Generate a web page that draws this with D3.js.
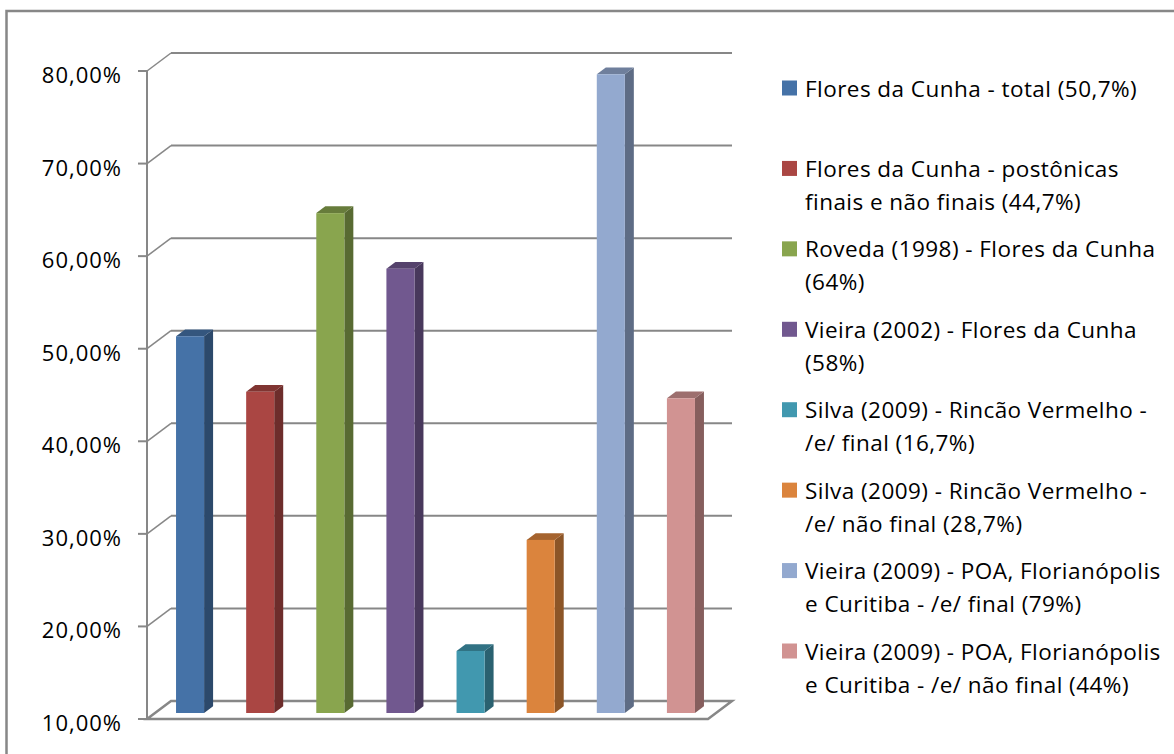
<!DOCTYPE html>
<html>
<head>
<meta charset="utf-8">
<script src="https://cdn.jsdelivr.net/npm/d3@7"></script>
<style>
  html, body { margin: 0; padding: 0; background: #ffffff; }
  svg { display: block; }
  text { font-family: "Open Sans", Lato, "Liberation Sans", sans-serif; fill: #000; }
</style>
</head>
<body>
<svg id="chart" width="1174" height="754"></svg>
<script>
// ---- data ----
const categories = ["c1","c2","c3","c4","c5","c6","c7","c8"];
const values = [50.7, 44.7, 64, 58, 16.7, 28.7, 79, 44];
const colors = ["#4572A7","#AA4643","#89A54E","#71588F","#4198AF","#DB843D","#93A9CF","#D19392"];
const legendLabels = [
  ["Flores da Cunha - total (50,7%)"],
  ["Flores da Cunha - postônicas", "finais e não finais (44,7%)"],
  ["Roveda (1998) - Flores da Cunha", "(64%)"],
  ["Vieira (2002) - Flores da Cunha", "(58%)"],
  ["Silva (2009) - Rincão Vermelho -", "/e/ final (16,7%)"],
  ["Silva (2009) - Rincão Vermelho -", "/e/ não final (28,7%)"],
  ["Vieira (2009) - POA, Florianópolis", "e Curitiba - /e/ final (79%)"],
  ["Vieira (2009) - POA, Florianópolis", "e Curitiba - /e/ não final (44%)"]
];
const tickValues = [10, 20, 30, 40, 50, 60, 70, 80];
const tickLabels = ["10,00%","20,00%","30,00%","40,00%","50,00%","60,00%","70,00%","80,00%"];

// ---- layout ----
const svg = d3.select("#chart");
const DX = 24, DY = 18;          // 3D depth offset of the wall/floor
const gridColor = "#878787";

const y = d3.scaleLinear().domain([10, 80]).range([719, 71]);
const x = d3.scaleBand().domain(categories).range([147, 708]).padding(0);
const bw = x.bandwidth();

// outer border
svg.append("rect").attr("x", 6.5).attr("y", 11).attr("width", 1200).attr("height", 800)
  .attr("fill", "none").attr("stroke", gridColor).attr("stroke-width", 2.5);

// gridlines (back wall) with diagonal connectors
const g = svg.append("g");
tickValues.forEach((t, i) => {
  const yy = y(t);
  if (i > 0) {
    g.append("line").attr("x1", 147 + DX).attr("x2", 708 + DX)
      .attr("y1", yy - DY).attr("y2", yy - DY)
      .attr("stroke", gridColor).attr("stroke-width", 2);
    g.append("line").attr("x1", 147).attr("x2", 147 + DX)
      .attr("y1", yy).attr("y2", yy - DY)
      .attr("stroke", gridColor).attr("stroke-width", 1.5);
  }
  g.append("line").attr("x1", 138).attr("x2", 147)
    .attr("y1", yy).attr("y2", yy)
    .attr("stroke", gridColor).attr("stroke-width", 2);
  g.append("text").attr("x", 122).attr("y", yy + 3)
    .attr("text-anchor", "end").attr("dominant-baseline", "central")
    .attr("font-size", 22).attr("letter-spacing", 1).text(tickLabels[i]);
});

// floor
const y0 = y(10);
g.append("path")
  .attr("d", `M147,${y0} L708,${y0} L${708 + DX},${y0 - DY} L${147 + DX},${y0 - DY} Z`)
  .attr("fill", "none").attr("stroke", gridColor).attr("stroke-width", 2.5);

// vertical axis line
g.append("line").attr("x1", 147).attr("x2", 147).attr("y1", y(80)).attr("y2", y0)
  .attr("stroke", gridColor).attr("stroke-width", 2);

// bars (3D columns)
const bars = svg.append("g");
const fdx = DX / 3, fdy = DY / 3;       // bar front position in depth
const bdx = 9, bdy = 6.75;              // bar depth
categories.forEach((c, i) => {
  const x0 = x(c) + bw * 0.3 + fdx;
  const x1 = x0 + bw * 0.4;
  const yb = y0 - fdy;
  const yt = y(values[i]) - fdy;
  const col = d3.color(colors[i]);
  // side
  bars.append("path")
    .attr("d", `M${x1},${yb} L${x1 + bdx},${yb - bdy} L${x1 + bdx},${yt - bdy} L${x1},${yt} Z`)
    .attr("fill", col.darker(1.25).formatHex());
  // top
  bars.append("path")
    .attr("d", `M${x0},${yt} L${x1},${yt} L${x1 + bdx},${yt - bdy} L${x0 + bdx},${yt - bdy} Z`)
    .attr("fill", col.darker(0.8).formatHex());
  // front
  bars.append("rect").attr("x", x0).attr("y", yt).attr("width", x1 - x0).attr("height", yb - yt)
    .attr("fill", colors[i]);
});

// legend
const legY = d3.scaleLinear().domain([0, 7]).range([88, 651]);
const leg = svg.append("g");
legendLabels.forEach((lines, i) => {
  const cy = legY(i);
  leg.append("rect").attr("x", 782).attr("y", cy - 7.5).attr("width", 15).attr("height", 15)
    .attr("fill", colors[i]);
  lines.forEach((ln, j) => {
    leg.append("text").attr("x", 805).attr("y", cy + j * 33)
      .attr("dominant-baseline", "central").attr("font-size", 22.5)
      .attr("letter-spacing", 0.45).text(ln);
  });
});
</script>
</body>
</html>
